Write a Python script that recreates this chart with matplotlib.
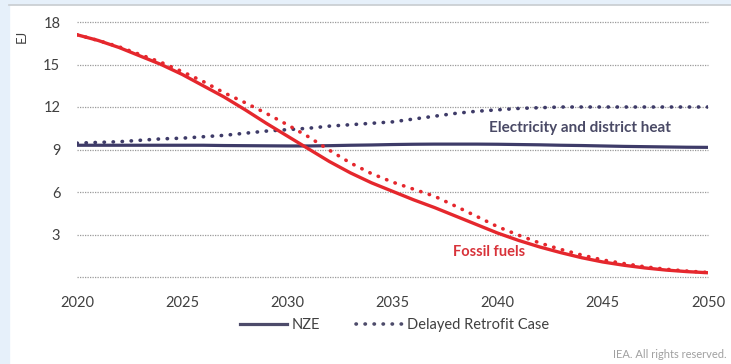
import matplotlib
matplotlib.use("Agg")
import matplotlib.pyplot as plt
from matplotlib.patches import Rectangle
from matplotlib.lines import Line2D

plt.rcParams['font.family'] = ['Lato', 'DejaVu Sans']

years = list(range(2020, 2051))
fossil_nze = [17.1, 16.7, 16.2, 15.6, 15.0, 14.3, 13.5, 12.7, 11.8, 10.85, 9.95,
              9.05, 8.15, 7.35, 6.65, 6.05, 5.45, 4.9, 4.3, 3.7, 3.1,
              2.58, 2.12, 1.72, 1.36, 1.06, 0.83, 0.64, 0.49, 0.38, 0.3]
fossil_drc = [17.1, 16.7, 16.25, 15.7, 15.15, 14.5, 13.8, 13.0, 12.3, 11.55, 10.75,
              9.9, 8.95, 8.05, 7.3, 6.7, 6.2, 5.7, 5.0, 4.28, 3.55,
              2.95, 2.4, 1.95, 1.55, 1.2, 0.95, 0.72, 0.55, 0.42, 0.32]
elec_nze = [9.3, 9.3, 9.3, 9.3, 9.3, 9.3, 9.3, 9.28, 9.27, 9.26, 9.25,
            9.25, 9.27, 9.3, 9.32, 9.35, 9.37, 9.38, 9.38, 9.38, 9.37,
            9.35, 9.33, 9.3, 9.28, 9.25, 9.22, 9.2, 9.18, 9.16, 9.15]
elec_drc = [9.45, 9.5, 9.55, 9.65, 9.75, 9.8, 9.9, 10.0, 10.15, 10.3, 10.4,
            10.5, 10.65, 10.75, 10.85, 10.95, 11.15, 11.35, 11.55, 11.7, 11.8,
            11.9, 11.95, 12.0, 12.0, 12.0, 12.0, 12.0, 12.0, 12.0, 12.0]
yticks = [3, 6, 9, 12, 15, 18]
xticks = [2020, 2025, 2030, 2035, 2040, 2045, 2050]

RED = '#e5272d'
PURPLE = '#3e3b68'
TXT = '#404040'

fig = plt.figure(figsize=(7.31, 3.64), dpi=100)
# frame decorations
fig.patches.append(Rectangle((0, 0), 9/731, 1, transform=fig.transFigure, color='#e6f0fa', zorder=0))
fig.patches.append(Rectangle((0, 1-4/364), 1, 4/364, transform=fig.transFigure, color='#e6f0fa', zorder=0))
fig.lines.append(Line2D([9/731, 1], [1-5/364, 1-5/364], transform=fig.transFigure, color='#c8ccd0', lw=1.2))

ax = fig.add_axes([77/731, 1-277/364, (708-77)/731, (277-22)/364])
ax.set_xlim(2020, 2050)
ax.set_ylim(0, 18)
for s in ax.spines.values():
    s.set_visible(False)

for g in [0] + yticks:
    ax.axhline(g, color='#9a9a9a', lw=0.9, ls=(0, (1, 1)), zorder=1, clip_on=False)

dot = (0, (0.1, 2.4))
ax.plot(years, elec_nze, color=PURPLE, lw=2.3, zorder=3, solid_capstyle='butt')
ax.plot(years, elec_drc, color=PURPLE, lw=2.6, ls=dot, dash_capstyle='round', zorder=3)
ax.plot(years, fossil_nze, color=RED, lw=2.4, zorder=4, solid_capstyle='butt')
ax.plot(years, fossil_drc, color=RED, lw=2.6, ls=dot, dash_capstyle='round', zorder=4)

ax.set_yticks(yticks)
ax.set_xticks(xticks)
ax.tick_params(length=0, labelsize=10.5, labelcolor=TXT)
ax.tick_params(axis='y', pad=12)
ax.tick_params(axis='x', pad=14)

ax.text(2043.9, 10.55, 'Electricity and district heat', color='#4a4a66', fontsize=11,
        fontweight='bold', ha='center', va='center')
ax.text(2039.6, 1.75, 'Fossil fuels', color='#d8333a', fontsize=10.5,
        fontweight='bold', ha='center', va='center')

fig.text(22/731, 1-36/364, 'EJ', rotation=90, fontsize=9.5, color=TXT, ha='center', va='center')

leg = [Line2D([0], [0], color='#4d4b6a', lw=2.3),
       Line2D([0], [0], color='#4d4b6a', lw=2.6, ls=dot, dash_capstyle='round')]
fig.legend(leg, ['NZE', 'Delayed Retrofit Case'], loc='center', ncol=2,
           bbox_to_anchor=(395/731, 1-325/364), frameon=False, fontsize=10.5,
           handlelength=3.2, handletextpad=0.3, columnspacing=2.5, labelcolor=TXT)

fig.text(727/731, 1-354/364, 'IEA. All rights reserved.', fontsize=8, color='#a0a0a0',
         ha='right', va='center')

fig.savefig('out.png', dpi=100)
